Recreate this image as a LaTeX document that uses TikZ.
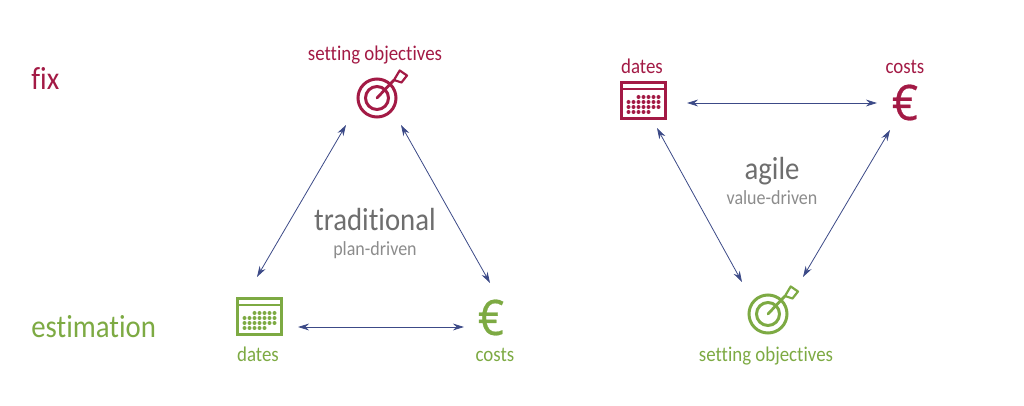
\documentclass[tikz,border=0pt]{standalone}
\usepackage{fontspec}
\setmainfont[FakeStretch=0.9,Ligatures={NoCommon}]{Carlito}
\newfontfamily\eurofont[FakeStretch=0.92,FakeBold=0.5]{Open Sans}
\usetikzlibrary{arrows.meta}
\definecolor{fixred}{HTML}{A31A45}
\definecolor{estgreen}{HTML}{7DAA43}
\definecolor{linkblue}{HTML}{3C4A87}
\definecolor{headgray}{HTML}{6E6E6E}
\definecolor{subgray}{HTML}{8C8C8C}
\tikzset{
    link/.style={draw=linkblue,line width=0.4pt,{Stealth[length=5.5pt,width=3.4pt]}-{Stealth[length=5.5pt,width=3.4pt]}},
    side/.style={anchor=base west,inner sep=0pt,font=\fontsize{16}{16}\selectfont},
    label/.style={anchor=base,inner sep=0pt,font=\fontsize{10.5}{10.5}\selectfont},
    head/.style={anchor=base,inner sep=0pt,text=headgray,font=\fontsize{16}{16}\selectfont},
    sub/.style={anchor=base,inner sep=0pt,text=subgray,font=\fontsize{10}{10}\selectfont},
    euro/.style={anchor=base,inner sep=0pt,font=\eurofont\fontsize{24.5}{24.5}\selectfont},
    pics/targeticon/.style={code={
        \draw[line width=1.5pt] (0,0) circle (19);
        \draw[line width=1.5pt] (0,0) circle (11.5);
        \draw[line width=1.4pt,line cap=round] (0,0) -- (17,-18);
        \draw[line width=1.1pt,line join=round] (17,-18) -- (22.7,-27.5) -- (30,-22.5) -- (24.5,-15.5) -- cycle;
    }},
    pics/calendaricon/.style={code={
        \draw[line width=1.2pt] (-22,-18) rectangle (22,18);
        \draw[line width=1pt] (-22,-11.5) -- (22,-11.5);
        \foreach \dx in {-5,0,...,15} \fill (\dx,-3.5) circle (2);
        \foreach \dx in {-15,-10,...,15} \fill (\dx,1.5) circle (2);
        \foreach \dx in {-15,-10,...,15} \fill (\dx,6.5) circle (2);
        \foreach \dx in {-15,-10,...,5} \fill (\dx,11.5) circle (2);
    }},
}
\begin{document}
\begin{tikzpicture}[x=0.5pt,y=-0.5pt]
    \useasboundingbox (0,0) rectangle (1024,406);

    \node[side,text=fixred] (fix) at (31,90) {fix};
    \node[side,text=estgreen] (estimation) at (31,338) {estimation};

    % traditional
    \node[head] (traditional) at (375,231) {traditional};
    \node[sub] (plan) at (375,256) {plan-driven};
    \node[label,text=fixred] (objA) at (375,61) {setting objectives};
    \pic[color=fixred] (targetA) at (377,98) {targeticon};
    \pic[color=estgreen] (calA) at (259.5,316.5) {calendaricon};
    \node[euro,text=estgreen] (euroA) at (491,335) {€};
    \node[label,text=estgreen] (datesA) at (258,362) {dates};
    \node[label,text=estgreen] (costsA) at (495,362) {costs};

    \coordinate (a1) at (346,125);
    \coordinate (a2) at (257,277);
    \coordinate (a3) at (401,125);
    \coordinate (a4) at (490,283);
    \coordinate (a5) at (298,327);
    \coordinate (a6) at (464,327);
    \path[link] (a1) -- (a2);
    \path[link] (a3) -- (a4);
    \path[link] (a5) -- (a6);

    % agile
    \node[head] (agile) at (772,180) {agile};
    \node[sub] (value) at (772,205) {value-driven};
    \node[label,text=fixred] (datesB) at (642,74) {dates};
    \node[label,text=fixred] (costsB) at (905,74) {costs};
    \pic[color=fixred] (calB) at (643.5,100.5) {calendaricon};
    \node[euro,text=fixred] (euroB) at (905,120) {€};
    \pic[color=estgreen] (targetB) at (768,314) {targeticon};
    \node[label,text=estgreen] (objB) at (766,362) {setting objectives};

    \coordinate (b1) at (687,103);
    \coordinate (b2) at (877,103);
    \coordinate (b3) at (657,128);
    \coordinate (b4) at (742,282);
    \coordinate (b5) at (890,130);
    \coordinate (b6) at (803,277);
    \path[link] (b1) -- (b2);
    \path[link] (b3) -- (b4);
    \path[link] (b5) -- (b6);
\end{tikzpicture}
\end{document}
